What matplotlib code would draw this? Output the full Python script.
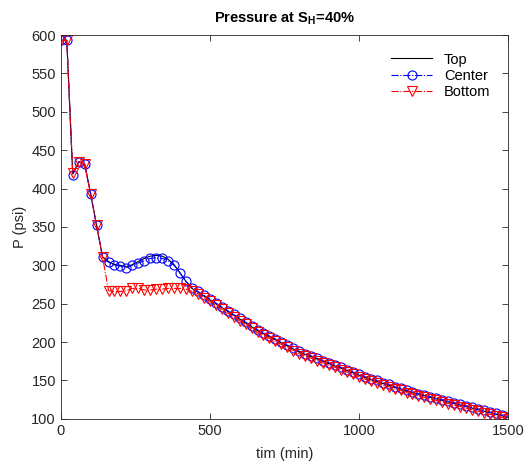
import matplotlib
matplotlib.use("Agg")
import matplotlib.pyplot as plt
import numpy as np

plt.rcParams['font.family'] = ['Liberation Sans', 'DejaVu Sans']

# sample times (min), one every 20 min
t = np.arange(0, 1501, 20)

# pressure readings (psi)
center = [593, 593, 418, 435, 432, 393, 352, 311,
          304, 300, 299, 297, 300, 303, 306, 309, 310, 309, 306, 300, 290, 279, 271,
          266, 261, 256, 251, 246, 241, 236, 231, 226, 221, 216, 212, 208, 204, 200,
          196, 192, 188, 185, 182, 179, 176, 173, 170, 167, 164, 161, 158, 155, 152,
          150, 147, 145, 142, 140, 137, 135, 133, 131, 129, 127, 125, 123, 121, 119,
          117, 115, 113, 111, 109, 107, 105, 103]
top = [593, 593, 419, 435, 432, 393, 352, 311,
       305, 301, 300, 298, 301, 305, 309, 312, 313, 312, 308, 301, 290, 279, 270,
       265, 260, 255, 250, 245, 240, 235, 230, 225, 220, 215, 211, 207, 203, 199,
       195, 191, 187, 184, 181, 178, 175, 172, 169, 166, 163, 160, 157, 154, 151,
       149, 146, 144, 141, 139, 136, 134, 132, 130, 128, 126, 124, 122, 120, 118,
       116, 114, 112, 110, 108, 106, 104, 102]
bottom = [593, 593, 420, 435, 432, 393, 352, 311,
          267, 266, 266, 267, 270, 270, 268, 268, 269, 269, 270, 270, 270, 269, 266,
          263, 258, 253, 248, 243, 238, 233, 228, 223, 218, 213, 209, 205, 201, 197,
          193, 189, 185, 182, 179, 176, 173, 170, 167, 164, 161, 158, 155, 152, 149,
          147, 144, 142, 139, 137, 134, 132, 130, 128, 126, 124, 122, 120, 118, 116,
          114, 112, 110, 108, 106, 104, 102, 100]

fig = plt.figure(figsize=(5.29, 4.68), dpi=100)
ax = fig.add_axes([0.115, 0.105, 0.845, 0.82])

ax.plot(t, top, color='black', linewidth=0.8, label='Top')
ax.plot(t, center, color='blue', linestyle='-.', linewidth=0.8, marker='o',
        markersize=6.5, markerfacecolor='none', markeredgewidth=0.8, label='Center')
ax.plot(t, bottom, color='red', linestyle='-.', linewidth=0.8, marker='v',
        markersize=6.5, markerfacecolor='none', markeredgewidth=0.8, label='Bottom')

ax.set_xlim(0, 1500)
ax.set_ylim(100, 600)
ax.set_xticks([0, 500, 1000, 1500])
ax.set_yticks(np.arange(100, 601, 50))
ax.tick_params(direction='in', top=True, right=True, labelsize=10.5,
               colors='#262626', length=4, width=0.6)
for s in ax.spines.values():
    s.set_color('#262626')
    s.set_linewidth(0.6)

ax.set_xlabel('tim (min)', fontsize=10.5, color='#262626', labelpad=7)
ax.set_ylabel('P (psi)', fontsize=10.5, color='#262626', labelpad=3)
ax.set_title('Pressure at S$_\\mathregular{H}$=40%', fontsize=10.5,
             fontweight='bold', pad=9)

leg = ax.legend(loc='upper right', frameon=False, fontsize=10.5,
                handlelength=2.8, borderaxespad=0.8, labelspacing=0.15)

fig.savefig('out.png', dpi=100)
